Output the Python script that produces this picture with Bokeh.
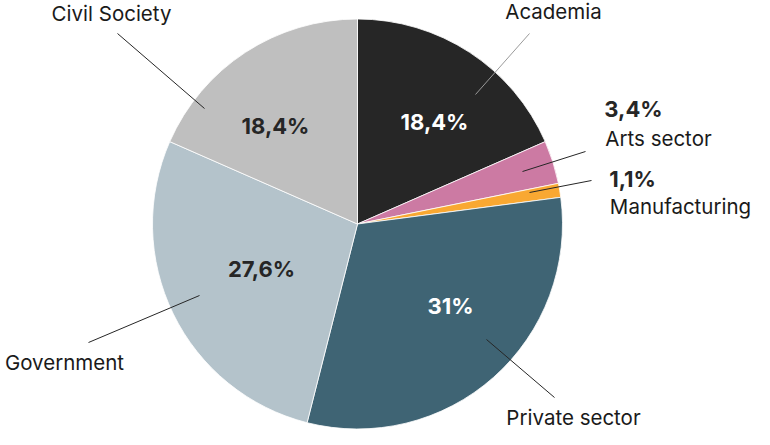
import math
from bokeh.plotting import figure
from bokeh.models import Range1d, ColumnDataSource
from bokeh.core.properties import value
from bokeh.embed import file_html
from bokeh.resources import INLINE

# ---- data ----
categories = ["Academia", "Arts sector", "Manufacturing", "Private sector", "Government", "Civil Society"]
shares = [18.4, 3.4, 1.1, 31.0, 27.6, 18.4]
pct_labels = ["18,4%", "3,4%", "1,1%", "31%", "27,6%", "18,4%"]

# ---- styles ----
colors = ["#262626", "#cc7aa3", "#f9a832", "#3f6474", "#b4c3cb", "#bfbfbf"]
pct_colors = ["#ffffff", "#262626", "#262626", "#ffffff", "#262626", "#262626"]
leader_colors = ["#9a9a9a", "#262626", "#262626", "#262626", "#262626", "#262626"]

# ---- layout (pixels, reference picture coordinates) ----
W, H = 754, 429
DX, DY = 13, 9
CX, CY, R = 370, 232.5, 205
pct_pos = [(447, 130), (646, 117), (645, 187), (463, 314), (274, 277), (288, 134)]
name_pos = [(566, 20), (671, 147), (693, 215), (586, 426), (77, 371), (124, 22)]
leader_from = [(488, 103), (535, 180), (542, 201), (499, 348), (212, 304), (217, 117)]
leader_to = [(542, 42), (598, 160), (604, 189), (567, 406), (101, 351), (130, 42)]


def X(sx):
    return sx - DX


def Y(sy):
    return H - (sy - DY)


total = sum(shares)
starts, ends = [], []
cum = 0.0
for s in shares:
    starts.append(math.pi / 2 - 2 * math.pi * cum / total)
    cum += s
    ends.append(math.pi / 2 - 2 * math.pi * cum / total)

p = figure(width=W, height=H, output_backend="svg", toolbar_location=None,
           x_range=Range1d(0, W), y_range=Range1d(0, H), min_border=0)
p.axis.visible = False
p.grid.visible = False
p.outline_line_color = None
p.background_fill_color = "white"
p.border_fill_color = "white"

src = ColumnDataSource(dict(start=starts, end=ends, color=colors, cat=categories))
p.wedge(x=X(CX), y=Y(CY), radius=R, start_angle="start", end_angle="end",
        direction="clock", fill_color="color", line_color="white", line_width=0.8,
        source=src)

p.segment(x0=[X(a[0]) for a in leader_from], y0=[Y(a[1]) for a in leader_from],
          x1=[X(b[0]) for b in leader_to], y1=[Y(b[1]) for b in leader_to],
          line_color=leader_colors, line_width=1)

font = value("Inter")
p.text(x=[X(a[0]) for a in pct_pos], y=[Y(a[1]) for a in pct_pos], text=pct_labels,
       text_color=pct_colors, text_font=font, text_font_style="bold",
       text_font_size="22px", text_align="center", text_baseline="middle")
p.text(x=[X(a[0]) for a in name_pos], y=[Y(a[1]) for a in name_pos], text=categories,
       text_color="#1a1a1a", text_font=font,
       text_font_size="20.5px", text_align="center", text_baseline="middle")

open("out.html", "w").write(file_html(p, INLINE))
